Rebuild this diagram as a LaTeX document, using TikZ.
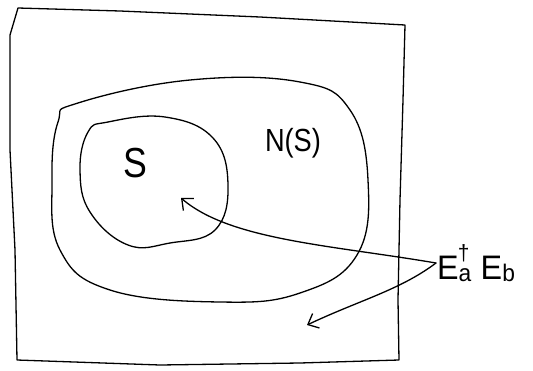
\documentclass[tikz,border=0pt]{standalone}
\usepackage{fontspec}
\setmainfont{Liberation Sans}
\usetikzlibrary{arrows.meta}
\begin{document}
\begin{tikzpicture}[x=1pt,y=-1pt,
  sketch/.style={draw=black,line width=1.3pt,line join=round,line cap=round},
  lbl/.style={font=\fontsize{32}{34}\selectfont},
  arr/.style={sketch,-{Straight Barb[length=9pt,width=16pt,line width=1.3pt]}}]
\useasboundingbox (0,0) rectangle (533,370);
% outer box
\draw[sketch] (18,8) -- (120,11) -- (260,17) -- (405,25)
  -- (403,100) -- (400,200) -- (398,300) -- (399,360)
  -- (300,363) -- (160,365) -- (17,360) -- (15,250) -- (10,150) -- (10,35) -- cycle;
% N(S) region
\draw[sketch] plot[smooth cycle,tension=0.7] coordinates {
  (78,103) (190,80) (300,82) (350,110) (368,180) (357,255)
  (300,293) (220,302) (110,290) (60,250) (52,180) (58,122)};
% S region
\draw[sketch] plot[smooth cycle,tension=0.7] coordinates {
  (108,122) (165,117) (213,138) (228,185) (215,230) (170,243)
  (128,245) (90,212) (80,170) (88,132)};
\node[font=\fontsize{42}{44}\selectfont,xscale=0.85] (S) at (135,163) {S};
\node[lbl,xscale=0.85] (NS) at (293,143) {N(S)};
\node[font=\fontsize{34}{36}\selectfont,anchor=west,inner sep=1pt,xscale=0.95] (E) at (436,263)
  {E\raisebox{-0.1ex}{\fontsize{24}{26}\selectfont a}\kern-0.42em\raisebox{1.1ex}{\fontsize{22}{24}\selectfont †}\kern0.35em E\raisebox{-0.1ex}{\fontsize{24}{26}\selectfont b}};
\coordinate (p) at (181,198);
\coordinate (q) at (307,325);
\draw[arr] (E.west) .. controls (330,245) and (230,240) .. (p);
\draw[arr] (E.west) .. controls (400,290) and (360,300) .. (q);
\end{tikzpicture}
\end{document}
